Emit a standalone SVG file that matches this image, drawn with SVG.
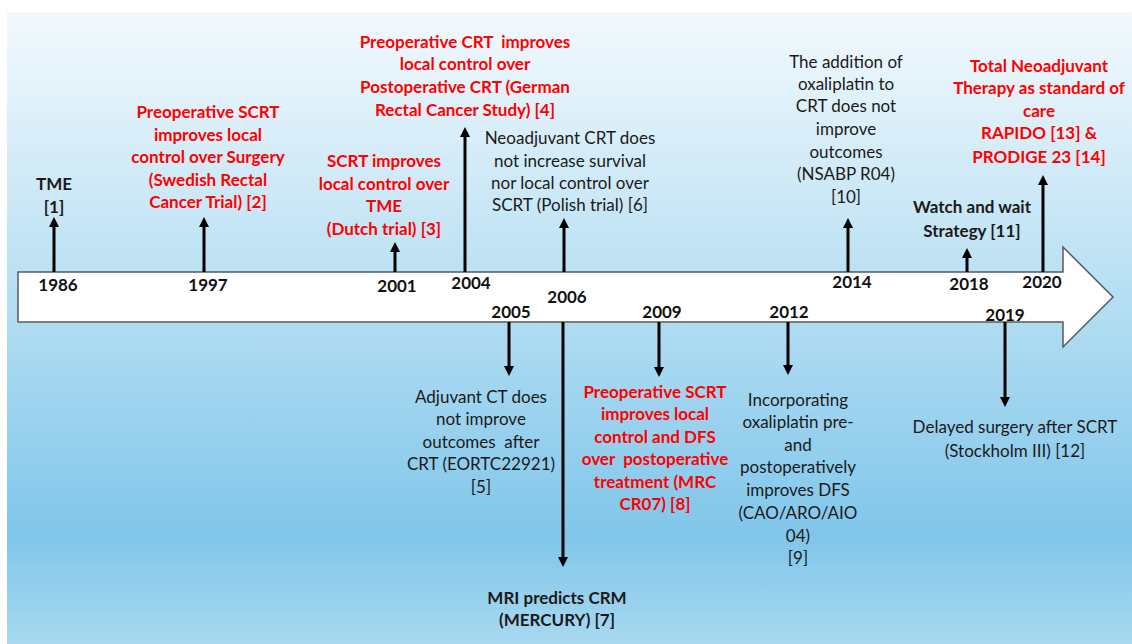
<svg xmlns="http://www.w3.org/2000/svg" width="1132" height="644" viewBox="0 0 1132 644">
<defs>
<linearGradient id="bg" x1="0" y1="0" x2="0" y2="1">
<stop offset="0" stop-color="#f3f9fd"/>
<stop offset="0.4" stop-color="#bde2f4"/>
<stop offset="0.83" stop-color="#80c6ea"/>
<stop offset="1" stop-color="#a8d9f0"/>
</linearGradient>
<marker id="ah" markerUnits="userSpaceOnUse" markerWidth="11" markerHeight="11" refX="2" refY="5" orient="auto">
<path d="M0,0 L10,5 L0,10 z" fill="#000"/>
</marker>
<style>
.t{font-family:Lato,"Liberation Sans",sans-serif;font-size:17px;text-anchor:middle;fill:#1a1a1a}
.b{font-weight:bold}
.r{fill:#ff0000;font-weight:bold}
.yr{font-family:Lato,"Liberation Sans",sans-serif;font-size:17px;font-weight:bold;text-anchor:middle;fill:#111}
.ln{stroke:#000;stroke-width:3;fill:none;marker-end:url(#ah)}
</style>
</defs>
<rect x="0" y="0" width="1132" height="644" fill="#fff"/>
<rect x="7" y="12" width="1125" height="632" fill="url(#bg)"/>
<g id="timeline">
<path d="M18,272 L1063,272 L1063,247 L1113,297 L1063,347 L1063,322 L18,322 Z" fill="#fff" stroke="#555b60" stroke-width="1.5"/>
</g>
<g id="connectors">
<line class="ln" x1="54" y1="272" x2="54" y2="225"/>
<line class="ln" x1="204" y1="272" x2="204" y2="225"/>
<line class="ln" x1="395" y1="272" x2="395" y2="250"/>
<line class="ln" x1="465" y1="272" x2="465" y2="135"/>
<line class="ln" x1="564" y1="272" x2="564" y2="226"/>
<line class="ln" x1="848" y1="272" x2="848" y2="226"/>
<line class="ln" x1="967" y1="272" x2="967" y2="256"/>
<line class="ln" x1="1043" y1="272" x2="1043" y2="183"/>
<line class="ln" x1="509" y1="322" x2="509" y2="368"/>
<line class="ln" x1="563" y1="322" x2="563" y2="559"/>
<line class="ln" x1="659" y1="322" x2="659" y2="369"/>
<line class="ln" x1="788" y1="322" x2="788" y2="367"/>
<line class="ln" x1="1005" y1="322" x2="1005" y2="399"/>
</g>
<g id="years">
<text class="yr" x="58" y="291">1986</text>
<text class="yr" x="208" y="291">1997</text>
<text class="yr" x="397" y="292">2001</text>
<text class="yr" x="471" y="289">2004</text>
<text class="yr" x="567" y="303">2006</text>
<text class="yr" x="511" y="318">2005</text>
<text class="yr" x="662" y="318">2009</text>
<text class="yr" x="789" y="318">2012</text>
<text class="yr" x="852" y="288">2014</text>
<text class="yr" x="969" y="290">2018</text>
<text class="yr" x="1005" y="321">2019</text>
<text class="yr" x="1042" y="288">2020</text>
</g>
<g id="n1986">
<text class="t b" x="54" y="190">TME</text>
<text class="t b" x="54" y="213">[1]</text>
</g>
<g id="n1997">
<text class="t r" x="208" y="118">Preoperative SCRT</text>
<text class="t r" x="208" y="141">improves local</text>
<text class="t r" x="208" y="163">control over Surgery</text>
<text class="t r" x="208" y="186">(Swedish Rectal</text>
<text class="t r" x="208" y="208">Cancer Trial) [2]</text>
</g>
<g id="n2001">
<text class="t r" x="384" y="167">SCRT improves</text>
<text class="t r" x="384" y="190">local control over</text>
<text class="t r" x="384" y="212">TME</text>
<text class="t r" x="384" y="235">(Dutch trial) [3]</text>
</g>
<g id="n2004">
<text class="t r" x="465" y="48" xml:space="preserve">Preoperative CRT  improves</text>
<text class="t r" x="465" y="70">local control over</text>
<text class="t r" x="465" y="93">Postoperative CRT (German</text>
<text class="t r" x="465" y="116">Rectal Cancer Study) [4]</text>
</g>
<g id="n2006up">
<text class="t" x="570" y="144">Neoadjuvant CRT does</text>
<text class="t" x="570" y="167">not increase survival</text>
<text class="t" x="570" y="189">nor local control over</text>
<text class="t" x="570" y="211">SCRT (Polish trial) [6]</text>
</g>
<g id="n2014">
<text class="t" x="846" y="68">The addition of</text>
<text class="t" x="846" y="90">oxaliplatin to</text>
<text class="t" x="846" y="112">CRT does not</text>
<text class="t" x="846" y="135">improve</text>
<text class="t" x="846" y="158">outcomes</text>
<text class="t" x="846" y="180">(NSABP R04)</text>
<text class="t" x="846" y="203">[10]</text>
</g>
<g id="n2018">
<text class="t b" x="972" y="213">Watch and wait</text>
<text class="t b" x="972" y="237">Strategy [11]</text>
</g>
<g id="n2020">
<text class="t r" x="1039" y="72">Total Neoadjuvant</text>
<text class="t r" x="1039" y="94">Therapy as standard of</text>
<text class="t r" x="1039" y="117">care</text>
<text class="t r" x="1039" y="139">RAPIDO [13] &amp;</text>
<text class="t r" x="1039" y="163">PRODIGE 23 [14]</text>
</g>
<g id="n2005">
<text class="t" x="481" y="403">Adjuvant CT does</text>
<text class="t" x="481" y="425">not improve</text>
<text class="t" x="481" y="448" xml:space="preserve">outcomes  after</text>
<text class="t" x="481" y="470">CRT (EORTC22921)</text>
<text class="t" x="481" y="493">[5]</text>
</g>
<g id="n2006down">
<text class="t b" x="557" y="604">MRI predicts CRM</text>
<text class="t b" x="557" y="626">(MERCURY) [7]</text>
</g>
<g id="n2009">
<text class="t r" x="655" y="398">Preoperative SCRT</text>
<text class="t r" x="655" y="420">improves local</text>
<text class="t r" x="655" y="443">control and DFS</text>
<text class="t r" x="655" y="465" xml:space="preserve">over  postoperative</text>
<text class="t r" x="655" y="488">treatment (MRC</text>
<text class="t r" x="655" y="510">CR07) [8]</text>
</g>
<g id="n2012">
<text class="t" x="798" y="406">Incorporating</text>
<text class="t" x="798" y="428">oxaliplatin pre-</text>
<text class="t" x="798" y="451">and</text>
<text class="t" x="798" y="473">postoperatively</text>
<text class="t" x="798" y="496">improves DFS</text>
<text class="t" x="798" y="519">(CAO/ARO/AIO</text>
<text class="t" x="798" y="542">04)</text>
<text class="t" x="798" y="564">[9]</text>
</g>
<g id="n2019">
<text class="t" x="1015" y="433">Delayed surgery after SCRT</text>
<text class="t" x="1015" y="457">(Stockholm III) [12]</text>
</g>
</svg>
